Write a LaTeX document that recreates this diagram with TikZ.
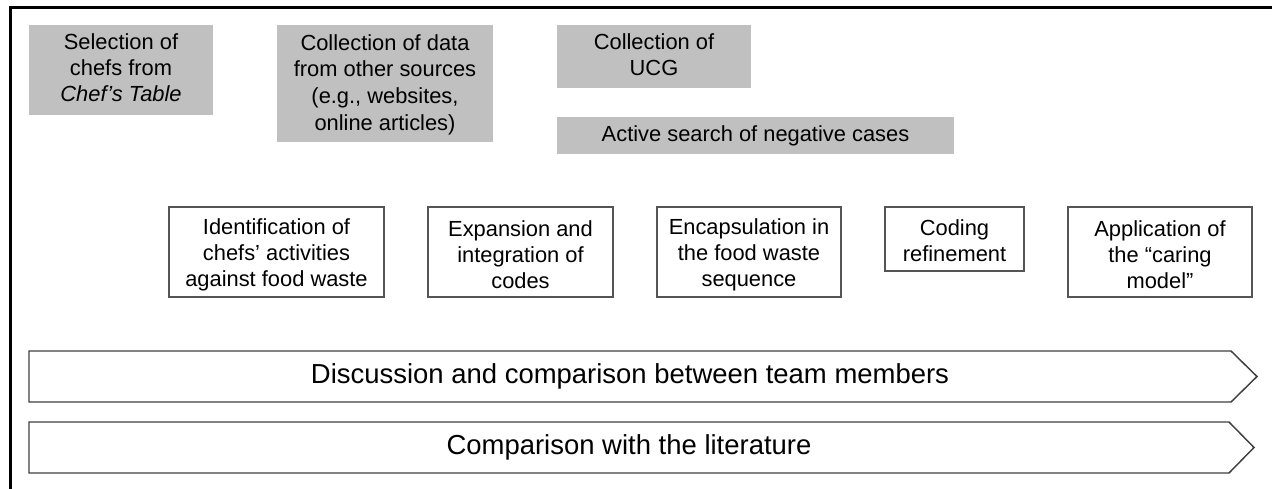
\documentclass[tikz,border=0pt]{standalone}
\usepackage{fontspec}
\setmainfont{Liberation Sans}
\definecolor{boxgray}{RGB}{192,192,192}
\definecolor{boxline}{RGB}{85,85,85}
\definecolor{arrowline}{RGB}{64,64,64}
\begin{document}
\begin{tikzpicture}[x=0.75pt,y=-0.75pt,
  graybox/.style={fill=boxgray, draw=none, inner sep=0pt},
  whitebox/.style={draw=boxline, line width=0.8pt, fill=white, inner sep=0pt, minimum height=67.5pt},
  boxtext/.style={inner sep=0pt, align=center, font=\fontsize{16.4}{19.5}\selectfont},
  arrowbox/.style={draw=arrowline, line width=1.1pt, fill=white, line join=miter},
  arrowtext/.style={inner sep=0pt, font=\fontsize{20.6}{24}\selectfont},
  frameline/.style={draw=black, line width=2.25pt}
]
\useasboundingbox (0,0) rectangle (1272,489);
% frame
\draw[frameline] (10,489) -- (10,7) -- (1272,7);

% gray boxes
\node[graybox, minimum width=138pt, minimum height=67.5pt] (g1) at (121,70) {};
\node[boxtext] (g1t) at (121,67.5) {Selection of\\chefs from\\\textit{Chef’s Table}};
\node[graybox, minimum width=162pt, minimum height=87.75pt] (g2) at (385,83.5) {};
\node[boxtext, font=\fontsize{16.4}{20}\selectfont] (g2t) at (385,84.5)
  {Collection of data\\from other sources\\(e.g., websites,\\online articles)};
\node[graybox, minimum width=145.5pt, minimum height=47.25pt] (g3) at (654,56.5) {};
\node[boxtext] (g3t) at (654,55) {Collection of\\UCG};
\node[graybox, minimum width=297.75pt, minimum height=27.75pt] (g4) at (755.5,135.5) {};
\node[boxtext] (g4t) at (755.5,135.5) {Active search of negative cases};

% white boxes
\node[whitebox, minimum width=161.25pt] (w1) at (276.5,252) {};
\node[boxtext] (w1t) at (276.5,255) {Identification of\\chefs’ activities\\against food waste};
\node[whitebox, minimum width=138.75pt] (w2) at (520.5,252) {};
\node[boxtext] (w2t) at (520.5,255) {Expansion and\\integration of\\codes};
\node[whitebox, minimum width=138pt] (w3) at (749,252) {};
\node[boxtext] (w3t) at (749,255) {Encapsulation in\\the food waste\\sequence};
\node[whitebox, minimum width=104.25pt, minimum height=48pt] (w4) at (954.5,239) {};
\node[boxtext] (w4t) at (954.5,241) {Coding\\refinement};
\node[whitebox, minimum width=138pt] (w5) at (1160,252) {};
\node[boxtext] (w5t) at (1160,255) {Application of\\the “caring\\model”};

% arrows
\draw[arrowbox] (29,351) -- (1231,351) -- (1257,376.5) -- (1231,402) -- (29,402) -- cycle;
\node[arrowtext] (a1) at (630,376.5) {Discussion and comparison between team members};
\draw[arrowbox] (29,422) -- (1229,422) -- (1254,447.5) -- (1229,473) -- (29,473) -- cycle;
\node[arrowtext] (a2) at (629,447.5) {Comparison with the literature};
\end{tikzpicture}
\end{document}
